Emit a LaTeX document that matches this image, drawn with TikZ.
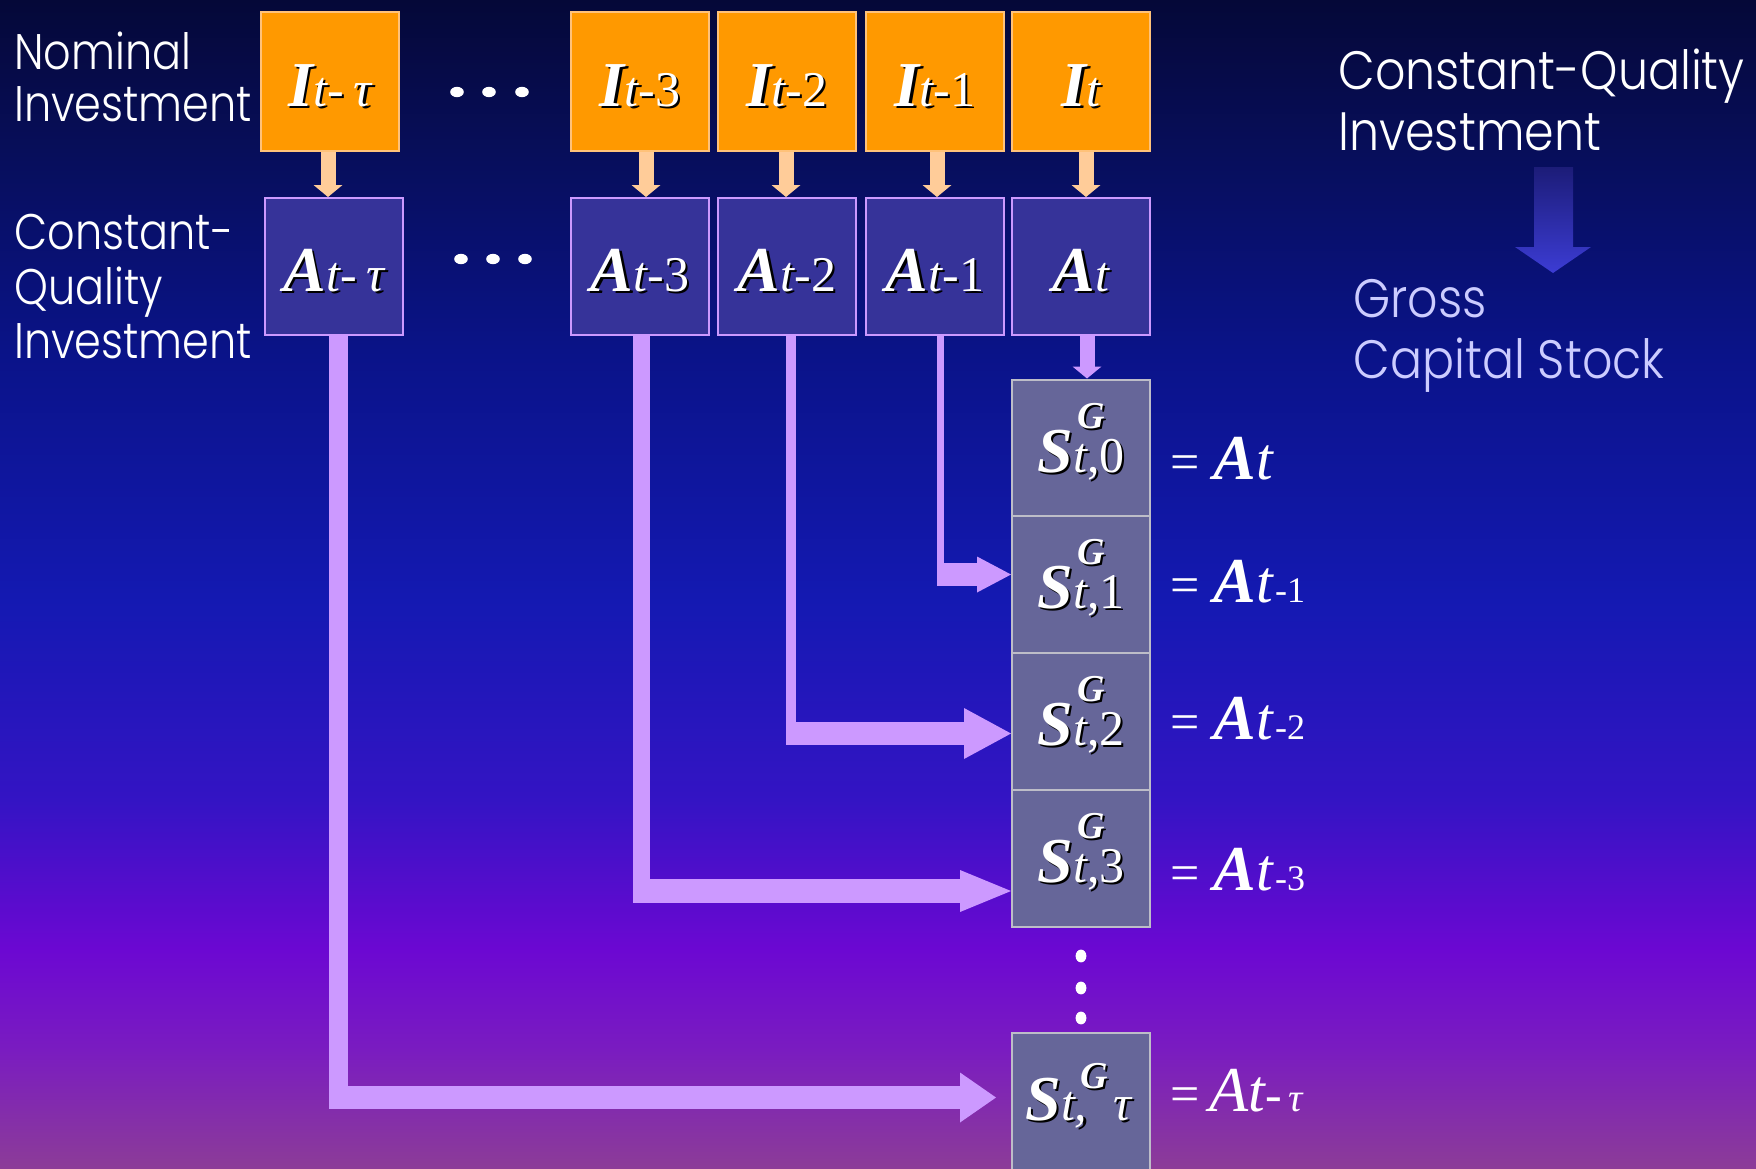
\documentclass[tikz,border=0pt]{standalone}
\usepackage{fontspec}
\setmainfont{Liberation Serif}
\newfontfamily\gothicL{Poppins Light}[FakeStretch=0.86]
\newfontfamily\gothicR{Poppins Light}[FakeStretch=0.88]
\usetikzlibrary{arrows.meta,calc}

\definecolor{nomfill}{HTML}{FF9900}
\definecolor{nomedge}{HTML}{FFC27A}
\definecolor{peach}{HTML}{FFCC99}
\definecolor{cqfill}{HTML}{363399}
\definecolor{lilac}{HTML}{CC99FF}
\definecolor{stockfill}{HTML}{666699}
\definecolor{stockedge}{HTML}{BDBDC8}
\definecolor{lavender}{HTML}{CCCCFF}
\definecolor{bgA}{HTML}{050838}
\definecolor{bgB}{HTML}{070E5A}
\definecolor{bgC}{HTML}{0A1388}
\definecolor{bgD}{HTML}{1419B2}
\definecolor{bgE}{HTML}{3414C4}
\definecolor{bgF}{HTML}{6C08D2}
\definecolor{bgG}{HTML}{7A1CC0}
\definecolor{bgH}{HTML}{8C3C98}
\definecolor{arrTop}{HTML}{1C1C78}
\definecolor{arrBot}{HTML}{3C3CD4}

% white text with a small black drop shadow
\newcommand\shd[1]{\leavevmode\rlap{\kern1.2pt\raisebox{-1.2pt}{\color{black}#1}}{\color{white}#1}}
\newcommand\Lg{\fontsize{32}{32}\selectfont\bfseries\itshape}
\newcommand\Sm{\fontsize{25}{25}\selectfont}
\newcommand\Gs{\fontsize{19}{19}\selectfont\bfseries\itshape}
\newcommand\Tn{\fontsize{18}{18}\selectfont}
\newcommand\Et{\fontsize{30}{30}\selectfont\itshape}

\begin{document}
\begin{tikzpicture}[x=0.5pt,y=-0.5pt,
  nombox/.style={draw=nomedge, line width=0.8pt, fill=nomfill,
    minimum width=69pt, minimum height=69.5pt, inner sep=0pt,
    text height=25pt, text depth=0pt},
  cqbox/.style={draw=lilac, line width=1pt, fill=cqfill,
    minimum width=69pt, minimum height=68.5pt, inner sep=0pt,
    text height=25pt, text depth=0pt},
  stockbox/.style={draw=stockedge, line width=1pt, fill=stockfill,
    minimum width=69pt, minimum height=68.5pt, inner sep=0pt,
    text height=24pt, text depth=0pt},
  lbl/.style={text=white, font=\gothicL\fontsize{25}{25}\selectfont,
    anchor=base west, inner sep=0pt},
  lblR/.style={text=white, font=\gothicR\fontsize{27}{27}\selectfont,
    anchor=base west, inner sep=0pt},
  sup/.style={anchor=base, inner sep=0pt},
  eqn/.style={text=white, anchor=base west, inner sep=0pt},
  feed/.style={draw=peach, line width=7.5pt,
    -{Triangle[width=14.5pt,length=6pt,line width=0pt]}},
  drop/.style={draw=lilac, line width=7.5pt,
    -{Triangle[width=14.5pt,length=6pt,line width=0pt]}},
  stem/.style={draw=lilac},
]
\useasboundingbox (0,0) rectangle (1756,1168);
\clip (0,0) rectangle (1756,1168);

% background
\fill[top color=bgA,bottom color=bgB] (0,0) rectangle (1756,151);
\fill[top color=bgB,bottom color=bgC] (0,150) rectangle (1756,351);
\fill[top color=bgC,bottom color=bgD] (0,350) rectangle (1756,601);
\fill[top color=bgD,bottom color=bgE] (0,600) rectangle (1756,801);
\fill[top color=bgE,bottom color=bgF] (0,800) rectangle (1756,951);
\fill[top color=bgF,bottom color=bgG] (0,950) rectangle (1756,1051);
\fill[top color=bgG,bottom color=bgH] (0,1050) rectangle (1756,1168);

% row labels
\node[lbl] (nomA) at (14,69) {Nominal};
\node[lbl] (nomB) at (14,121) {Investment};
\node[lbl] (cqA) at (14,249) {Constant-};
\node[lbl] (cqB) at (14,304) {Quality};
\node[lbl] (cqC) at (14,358) {Investment};

% nominal investment
\node[nombox] (In) at (330,81.5) {\shd{\Lg I}\shd{\Sm\itshape t}\shd{\Sm -}\hspace{5pt}\shd{\Sm\itshape τ}};
\node[nombox] (I3) at (640,81.5) {\shd{\Lg I}\shd{\Sm\itshape t}\shd{\Sm -3}};
\node[nombox] (I2) at (787,81.5) {\shd{\Lg I}\shd{\Sm\itshape t}\shd{\Sm -2}};
\node[nombox] (I1) at (935,81.5) {\shd{\Lg I}\shd{\Sm\itshape t}\shd{\Sm -1}};
\node[nombox] (I0) at (1081,81.5) {\shd{\Lg I}\shd{\Sm\itshape t}};

% constant-quality investment
\node[cqbox] (An) at (334,266.5) {\shd{\Lg A}\shd{\Sm\itshape t}\shd{\Sm -}\hspace{5pt}\shd{\Sm\itshape τ}};
\node[cqbox] (A3) at (640,266.5) {\shd{\Lg A}\shd{\Sm\itshape t}\shd{\Sm -3}};
\node[cqbox] (A2) at (787,266.5) {\shd{\Lg A}\shd{\Sm\itshape t}\shd{\Sm -2}};
\node[cqbox] (A1) at (935,266.5) {\shd{\Lg A}\shd{\Sm\itshape t}\shd{\Sm -1}};
\node[cqbox] (A0) at (1081,266.5) {\shd{\Lg A}\shd{\Sm\itshape t}};

% ellipses between the columns
\foreach \x in {457,489,522} \fill[white] (\x,92) ellipse [x radius=3.4pt, y radius=2.6pt];
\foreach \x in {461,493,525} \fill[white] (\x,259) ellipse [x radius=3.4pt, y radius=2.6pt];

% nominal -> constant-quality
\draw[feed] ($(In.south)+(-2,0)$) -- ($(An.north)+(-6,0)$);
\draw[feed] ($(I3.south)+(6,0)$) -- ($(A3.north)+(6,0)$);
\draw[feed] ($(I2.south)+(-1,0)$) -- ($(A2.north)+(-1,0)$);
\draw[feed] ($(I1.south)+(2,0)$) -- ($(A1.north)+(2,0)$);
\draw[feed] ($(I0.south)+(5,0)$) -- ($(A0.north)+(5,0)$);

% gross capital stock vintages
\node[stockbox] (S0) at (1081,448) {\shd{\Lg S}\shd{\Sm\itshape t}\shd{\Sm ,0}};
\node[stockbox] (S1) at (1081,584.5) {\shd{\Lg S}\shd{\Sm\itshape t}\shd{\Sm ,1}};
\node[stockbox] (S2) at (1081,721.5) {\shd{\Lg S}\shd{\Sm\itshape t}\shd{\Sm ,2}};
\node[stockbox] (S3) at (1081,858.5) {\shd{\Lg S}\shd{\Sm\itshape t}\shd{\Sm ,3}};
\node[stockbox] (Sn) at (1081,1101) {};
\foreach \s in {S0,S1,S2,S3}
  \node[sup] (G\s) at ($(\s.center)+(10,-20)$) {\shd{\Gs G}};
\node[eqn] (Snl) at (1025,1120) {\shd{\Lg S}\shd{\Sm\itshape t,}\hspace{13pt}\shd{\Sm\itshape τ}};
\node[sup] (GSn) at (1094,1088) {\shd{\Gs G}};

% vertical ellipsis
\foreach \y in {956,988,1018} \fill[white] (1081,\y) ellipse [x radius=2.7pt, y radius=3.2pt];

% A_t -> S_{t,0}
\draw[drop] ($(A0.south)+(6,0)$) -- ($(S0.north)+(6,0)$);

% older vintages: thin stem down, broad arrow across
\coordinate (k1) at (940.5,586);  \coordinate (h1) at (937,574.5);
\coordinate (k2) at (791,745);    \coordinate (h2) at (786,733.5);
\coordinate (k3) at (641.5,903);  \coordinate (h3) at (633,891);
\coordinate (kn) at (338.5,1109); \coordinate (hn) at (329,1097.5);

\draw[stem, line width=3.5pt] (A1.south -| k1) -- (k1);
\draw[lilac, line width=11.5pt, -{Triangle[width=18pt,length=17pt,line width=0pt]}] (h1) -- (S1.west |- h1);
\draw[stem, line width=5pt] (A2.south -| k2) -- (k2);
\draw[lilac, line width=11.5pt, -{Triangle[width=25.5pt,length=23.5pt,line width=0pt]}] (h2) -- (S2.west |- h2);
\draw[stem, line width=8.5pt] (A3.south -| k3) -- (k3);
\draw[lilac, line width=12pt, -{Triangle[width=21pt,length=25.5pt,line width=0pt]}] (h3) -- (S3.west |- h3);
\draw[stem, line width=9.5pt] (An.south -| kn) -- (kn);
\draw[lilac, line width=11.5pt, -{Triangle[width=25pt,length=18pt,line width=0pt]}] (hn) -- ($(Sn.west |- hn)+(-15,0)$);

% equalities
\node[eqn] (e0) at (1170,479) {{\fontsize{26}{26}\selectfont=}\hspace{7pt}{\Lg A}{\Et t}};
\node[eqn] (e1) at (1170,602) {{\fontsize{26}{26}\selectfont=}\hspace{7pt}{\Lg A}{\Et t}\kern1pt{\Tn -1}};
\node[eqn] (e2) at (1170,739) {{\fontsize{26}{26}\selectfont=}\hspace{7pt}{\Lg A}{\Et t}\kern1pt{\Tn -2}};
\node[eqn] (e3) at (1170,890) {{\fontsize{26}{26}\selectfont=}\hspace{7pt}{\Lg A}{\Et t}\kern1pt{\Tn -3}};
\node[eqn] (en) at (1170,1111) {{\fontsize{26}{26}\selectfont=}\hspace{5pt}{\fontsize{32}{32}\selectfont\itshape A}{\Et t}{\Sm -}\hspace{3pt}{\fontsize{20}{20}\selectfont\itshape τ}};

% legend at the right
\node[lblR] (rA) at (1338,89) {Constant-Quality};
\node[lblR] (rB) at (1338,150) {Investment};
\node[lblR, text=lavender] (gA) at (1353,317) {Gross};
\node[lblR, text=lavender] (gB) at (1353,378) {Capital Stock};
\shade[top color=arrTop, bottom color=arrBot]
  (1534,167) -- (1573,167) -- (1573,247) -- (1591,247) -- (1553,273)
  -- (1515,247) -- (1534,247) -- cycle;
\end{tikzpicture}
\end{document}
